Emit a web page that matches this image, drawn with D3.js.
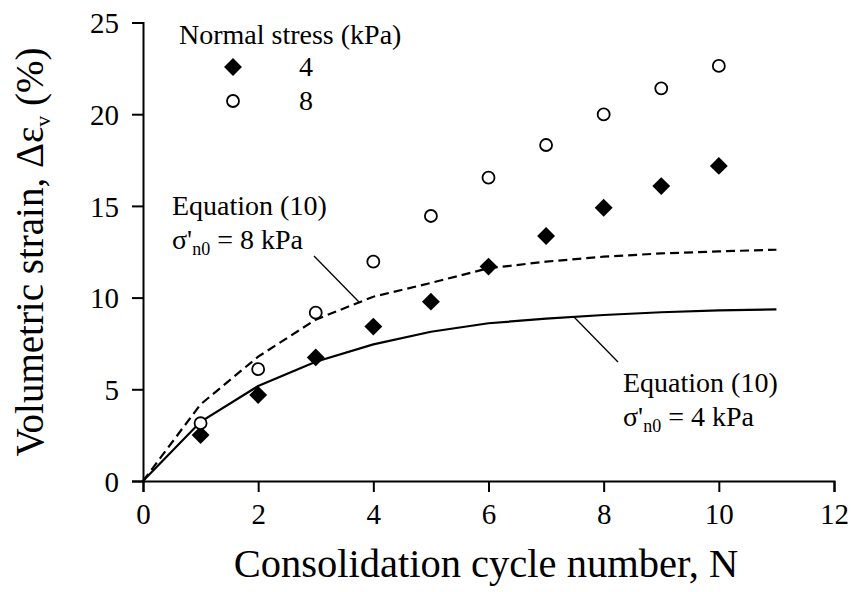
<!DOCTYPE html>
<html>
<head>
<meta charset="utf-8">
<script src="https://cdn.jsdelivr.net/npm/d3@7"></script>
<style>
  html, body { margin: 0; padding: 0; background: #fff; }
  svg { display: block; }
  svg text { font-family: "Liberation Serif", "Times New Roman", serif !important; fill: #000; }
</style>
</head>
<body>
<svg id="chart" width="851" height="592"></svg>
<script>
// ---- data ----
const cycles = [1, 2, 3, 4, 5, 6, 7, 8, 9, 10];
const strain4kPa = [2.51, 4.69, 6.74, 8.42, 9.78, 11.69, 13.36, 14.9, 16.08, 17.18];
const strain8kPa = [3.15, 6.1, 9.18, 11.96, 14.45, 16.54, 18.32, 19.99, 21.41, 22.63];
const curveN = [0, 1, 2, 3, 4, 5, 6, 7, 8, 9, 10, 11];
const eq4kPa = [0, 3.23, 5.18, 6.5, 7.45, 8.14, 8.6, 8.85, 9.05, 9.2, 9.3, 9.36];
const eq8kPa = [0, 4.18, 6.78, 8.8, 10.05, 10.8, 11.6, 11.96, 12.23, 12.41, 12.52, 12.61];
const xTicks = [0, 2, 4, 6, 8, 10, 12];
const yTicks = [0, 5, 10, 15, 20, 25];
const legendTitle = "Normal stress (kPa)";
const legendLabels = ["4", "8"];

// ---- layout ----
const FONT = "Liberation Serif, Times New Roman, serif";
const svg = d3.select("#chart").attr("font-family", FONT);
const x = d3.scaleLinear().domain([0, 12]).range([143, 834]);
const y = d3.scaleLinear().domain([0, 25]).range([481, 22.5]);

// axes
const xAxis = svg.append("g").attr("transform", `translate(0,${y(0)})`)
  .call(d3.axisBottom(x).tickValues(xTicks).tickSize(11).tickPadding(4).tickFormat(d3.format("d")));
const yAxis = svg.append("g").attr("transform", `translate(${x(0)},0)`)
  .call(d3.axisLeft(y).tickValues(yTicks).tickSize(11).tickPadding(13).tickFormat(d3.format("d")));
[xAxis, yAxis].forEach(g => {
  g.attr("font-family", FONT).attr("font-size", 29);
  g.select(".domain").attr("stroke", "#000").attr("stroke-width", 2);
  g.selectAll(".tick line").attr("stroke", "#000").attr("stroke-width", 2);
  g.selectAll(".tick text").attr("font-family", FONT).attr("font-size", 29).attr("fill", "#000");
});
xAxis.selectAll(".tick text").attr("dy", "0.95em");
yAxis.selectAll(".tick text").attr("dy", "0.35em");

// equation curves
const line = d3.line().x(d => x(d[0])).y(d => y(d[1]));
svg.append("path").datum(curveN.map((n, i) => [n, eq4kPa[i]]))
  .attr("d", line).attr("fill", "none").attr("stroke", "#000").attr("stroke-width", 2.2);
svg.append("path").datum(curveN.map((n, i) => [n, eq8kPa[i]]))
  .attr("d", line).attr("fill", "none").attr("stroke", "#000").attr("stroke-width", 2.2)
  .attr("stroke-dasharray", "9,5");

// markers
const diamond = d3.symbol().type(d3.symbolSquare).size(160);
svg.append("g").selectAll("path").data(cycles.map((n, i) => [n, strain4kPa[i]])).join("path")
  .attr("d", diamond)
  .attr("transform", d => `translate(${x(d[0])},${y(d[1])}) rotate(45)`)
  .attr("fill", "#000");
svg.append("g").selectAll("circle").data(cycles.map((n, i) => [n, strain8kPa[i]])).join("circle")
  .attr("cx", d => x(d[0])).attr("cy", d => y(d[1])).attr("r", 6)
  .attr("fill", "#fff").attr("stroke", "#000").attr("stroke-width", 1.8);

// legend
svg.append("text").attr("x", 179).attr("y", 44).attr("font-size", 28).text(legendTitle);
svg.append("path").attr("d", diamond).attr("transform", "translate(233,67) rotate(45)").attr("fill", "#000");
svg.append("circle").attr("cx", 233).attr("cy", 101).attr("r", 6)
  .attr("fill", "#fff").attr("stroke", "#000").attr("stroke-width", 1.8);
svg.append("text").attr("x", 306).attr("y", 76).attr("font-size", 28).attr("text-anchor", "middle").text(legendLabels[0]);
svg.append("text").attr("x", 306).attr("y", 110).attr("font-size", 28).attr("text-anchor", "middle").text(legendLabels[1]);

// annotations
function annotation(x0, yb, value) {
  svg.append("text").attr("x", x0).attr("y", yb).attr("font-size", 28).text("Equation (10)");
  const t = svg.append("text").attr("x", x0).attr("y", yb + 34).attr("font-size", 28);
  t.append("tspan").text("σ'");
  t.append("tspan").attr("font-size", 18).attr("dy", 6).text("n0");
  t.append("tspan").attr("dy", -6).text(` = ${value} kPa`);
}
annotation(172, 215, 8);
annotation(623, 392, 4);
svg.append("line").attr("x1", 314).attr("y1", 256).attr("x2", 359).attr("y2", 302)
  .attr("stroke", "#000").attr("stroke-width", 1.3);
svg.append("line").attr("x1", 574).attr("y1", 317).attr("x2", 618).attr("y2", 362)
  .attr("stroke", "#000").attr("stroke-width", 1.3);

// axis titles
svg.append("text").attr("x", 486).attr("y", 577).attr("text-anchor", "middle")
  .attr("font-size", 40.5).text("Consolidation cycle number, N");
const yt = svg.append("text").attr("transform", "translate(43,252) rotate(-90)")
  .attr("text-anchor", "middle").attr("font-size", 39);
yt.append("tspan").text("Volumetric strain, Δε");
yt.append("tspan").attr("font-size", 22).attr("dy", 7).text("v");
yt.append("tspan").attr("dy", -7).text(" (%)");
</script>
</body>
</html>
